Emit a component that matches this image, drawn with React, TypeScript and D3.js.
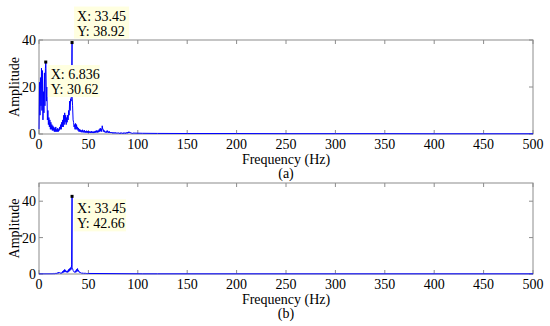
import React from "react";
import * as d3 from "d3";

// ---- DATA ----
const STEP = 0.5; // Hz spacing of the dense low-frequency samples
const topLow: number[] = [
  2, 22, 8, 24, 12, 28, 10, 27, 6, 18, 9, 26, 12, 28, 29, 14, 20, 6, 10, 4,
  7, 3, 6, 2, 5, 2, 4, 1.5, 3.5, 1.5, 3, 1, 2.5, 1, 3, 1, 2, 1, 2.5, 1,
  2, 1.5, 3, 2, 4, 2, 5, 3, 6, 3, 8, 4, 9, 5, 8, 4, 7, 5, 8, 6,
  10, 8, 14, 10, 15, 14, 20, 16, 12, 6, 5, 3, 4, 2, 4.5, 2, 4, 2, 3, 1.5,
  2.5, 1, 2, 1, 1.8, 0.8, 1.5, 0.7, 1.8, 0.8, 1.4, 0.6, 1.6, 0.7, 1.2, 0.5, 1.4, 0.6, 1.2, 0.5,
  1.2, 0.5, 1.1, 0.5, 1, 0.4, 1.2, 0.5, 1, 0.4, 1, 0.4, 1.1, 0.5, 1.3, 0.6, 1.5, 0.7, 1.4, 0.6,
  1.5, 0.8, 2, 1, 2.5, 1.2, 2.2, 1, 3.5, 2, 2, 1, 1.5, 0.8, 1, 0.6, 1.2, 0.6, 1.5, 0.7,
  1, 0.5, 1.2, 0.5, 0.8, 0.4, 0.8, 0.4, 0.7, 0.3, 0.7, 0.3, 0.6, 0.3, 0.7, 0.3, 0.6, 0.3, 0.5, 0.3,
  0.6, 0.3, 0.5, 0.2, 0.5, 0.2, 0.6, 0.3, 0.5, 0.2, 0.5, 0.2, 0.6, 0.3, 0.5, 0.2, 0.6, 0.3, 0.7, 0.3,
  0.8, 0.4, 1, 0.5, 0.8, 0.4, 0.6, 0.3, 0.5, 0.2, 0.4,
];
const topPeaks = [
  { f: 6.836, a: 30.62 },
  { f: 33.45, a: 38.92 },
];
const bottomLow: number[] = [
  0.2, 0.1, 0.2, 0.1, 0.2, 0.1, 0.2, 0.1, 0.2, 0.1, 0.2, 0.1, 0.2, 0.1, 0.2, 0.1, 0.2, 0.1, 0.2, 0.1,
  0.2, 0.1, 0.2, 0.1, 0.2, 0.1, 0.2, 0.1, 0.2, 0.1, 0.3, 0.1, 0.3, 0.2, 0.4, 0.2, 0.5, 0.3, 0.8, 0.4,
  1, 0.5, 0.8, 0.4, 0.6, 0.3, 0.8, 0.5, 1.5, 0.8, 2, 1, 2.5, 1.2, 2, 1, 1.5, 0.8, 1.8, 1,
  2.5, 1.5, 3, 2, 3.5, 2.5, 5, 3, 3, 2, 1.5, 1, 1.2, 0.8, 1.8, 1, 2.5, 1.5, 3, 1.5,
  2, 1, 1.2, 0.6, 0.8, 0.4, 0.6, 0.3, 0.5, 0.3, 0.5, 0.2, 0.4, 0.2, 0.4, 0.2, 0.3, 0.2, 0.3, 0.1,
  0.3,
];
const bottomPeaks = [{ f: 33.45, a: 42.66 }];
const tailFreqs = [105, 120, 150, 200, 250, 300, 350, 400, 450, 500];
const topTail = [0.3, 0.25, 0.2, 0.2, 0.15, 0.15, 0.15, 0.1, 0.1, 0.1];
const bottomTail = [0.1, 0.1, 0.1, 0.1, 0.1, 0.1, 0.1, 0.1, 0.1, 0.1];

const xTicks = [0, 50, 100, 150, 200, 250, 300, 350, 400, 450, 500];
const yTicks = [0, 20, 40];

function buildSeries(low: number[], peaks: { f: number; a: number }[], tail: number[]) {
  const pts = low.map((a, i) => ({ f: i * STEP, a }));
  peaks.forEach((p) => pts.push(p));
  tailFreqs.forEach((f, i) => pts.push({ f, a: tail[i] }));
  pts.sort((p, q) => p.f - q.f);
  return pts;
}

const W = 550;
const H = 326;
const X0 = 39;
const X1 = 533;
const FONT = "Liberation Serif, serif";
const FRAME = "#8c8c8c";

type PanelProps = {
  top: number;
  bottom: number;
  yMax: number;
  series: { f: number; a: number }[];
  peaks: { f: number; a: number }[];
  tipSide: ("ur" | "lr")[];
  label: string;
};

function Panel({ top, bottom, yMax, series, peaks, tipSide, label }: PanelProps) {
  const x = d3.scaleLinear().domain([0, 500]).range([X0, X1]);
  const y = d3.scaleLinear().domain([0, yMax]).range([bottom, top]);
  const line = d3
    .line<{ f: number; a: number }>()
    .x((d) => x(d.f))
    .y((d) => y(d.a));
  return (
    <g>
      <rect x={X0} y={top} width={X1 - X0} height={bottom - top} fill="white" stroke="none" />
      {xTicks.map((t) => (
        <g key={"x" + t}>
          <line x1={x(t)} x2={x(t)} y1={bottom} y2={bottom - 4} stroke={FRAME} />
          <line x1={x(t)} x2={x(t)} y1={top} y2={top + 4} stroke={FRAME} />
          <text x={x(t)} y={bottom + 15} textAnchor="middle" fontSize={14} fontFamily={FONT}>
            {t}
          </text>
        </g>
      ))}
      {yTicks.map((t) => (
        <g key={"y" + t}>
          <line x1={X0} x2={X0 + 4} y1={y(t)} y2={y(t)} stroke={FRAME} />
          <line x1={X1} x2={X1 - 4} y1={y(t)} y2={y(t)} stroke={FRAME} />
          <text x={X0 - 3} y={y(t) + 5} textAnchor="end" fontSize={14} fontFamily={FONT}>
            {t}
          </text>
        </g>
      ))}
      <rect x={X0} y={top} width={X1 - X0} height={bottom - top} fill="none" stroke={FRAME} strokeWidth={1} />
      <path d={line(series) || ""} fill="none" stroke="#0000ff" strokeWidth={1} />
      <text
        transform={`translate(19,${(top + bottom) / 2}) rotate(-90)`}
        textAnchor="middle"
        fontSize={14}
        fontFamily={FONT}
      >
        Amplitude
      </text>
      <text x={(X0 + X1) / 2} y={bottom + 30} textAnchor="middle" fontSize={14} fontFamily={FONT}>
        Frequency (Hz)
      </text>
      <text x={(X0 + X1) / 2} y={bottom + 44} textAnchor="middle" fontSize={14} fontFamily={FONT}>
        {label}
      </text>
      {peaks.map((p, i) => {
        const px = x(p.f);
        const py = y(p.a);
        const side = tipSide[i];
        const bw = side === "ur" ? 55 : 52;
        const bh = 32;
        const bx = px + 2;
        const by = side === "ur" ? py - 4 - bh : py + 3;
        return (
          <g key={"p" + i}>
            <rect x={bx} y={by} width={bw} height={bh} fill="#ffffe0" />
            <text x={bx + 3} y={by + 14} fontSize={14} fontFamily={FONT}>
              {`X: ${p.f}`}
            </text>
            <text x={bx + 3} y={by + 29} fontSize={14} fontFamily={FONT}>
              {`Y: ${p.a}`}
            </text>
            <rect x={px - 1.5} y={py - 1.5} width={3} height={3} fill="black" />
          </g>
        );
      })}
    </g>
  );
}

export default function App() {
  const topSeries = buildSeries(topLow, topPeaks, topTail);
  const bottomSeries = buildSeries(bottomLow, bottomPeaks, bottomTail);
  return (
    <svg width={W} height={H} style={{ position: "absolute", left: 0, top: 0, background: "white" }}>
      <rect width={W} height={H} fill="white" />
      <Panel top={40} bottom={134} yMax={40} series={topSeries} peaks={topPeaks} tipSide={["lr", "ur"]} label="(a)" />
      <Panel top={183} bottom={274} yMax={50} series={bottomSeries} peaks={bottomPeaks} tipSide={["lr"]} label="(b)" />
    </svg>
  );
}
